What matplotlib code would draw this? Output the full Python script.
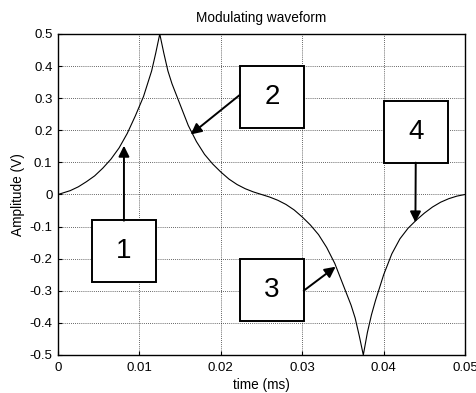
import numpy as np
import matplotlib
matplotlib.use("Agg")
import matplotlib.pyplot as plt
from matplotlib.patches import Rectangle

plt.rcParams["font.family"] = ["Liberation Sans", "DejaVu Sans"]
plt.rcParams["axes.unicode_minus"] = False

# waveform (time in ms, amplitude in V)
t = [0.0, 0.0015, 0.0025, 0.0035, 0.0045, 0.0055, 0.0065, 0.0075, 0.0085,
     0.0095, 0.0105, 0.0110, 0.0115, 0.0120, 0.0125,
     0.0130, 0.0135, 0.0140, 0.0150, 0.0160, 0.0170, 0.0180, 0.0190,
     0.0200, 0.0210, 0.0220, 0.0230, 0.0240, 0.0250,
     0.0260, 0.0270, 0.0280, 0.0290, 0.0300, 0.0310, 0.0320, 0.0330,
     0.0340, 0.0350, 0.0360, 0.0365, 0.0370, 0.0375,
     0.0380, 0.0385, 0.0390, 0.0400, 0.0410, 0.0420, 0.0430, 0.0440,
     0.0450, 0.0460, 0.0470, 0.0480, 0.0490, 0.0500]
amp = [0.0, 0.012, 0.024, 0.040, 0.058, 0.082, 0.110, 0.145, 0.190,
       0.245, 0.305, 0.345, 0.385, 0.44, 0.5,
       0.44, 0.385, 0.345, 0.28, 0.215, 0.165, 0.125, 0.095,
       0.07, 0.048, 0.031, 0.018, 0.008, 0.0,
       -0.008, -0.018, -0.031, -0.048, -0.07, -0.095, -0.125, -0.165,
       -0.215, -0.28, -0.345, -0.385, -0.44, -0.5,
       -0.43, -0.375, -0.33, -0.25, -0.185, -0.138, -0.105, -0.08,
       -0.058, -0.039, -0.024, -0.013, -0.005, 0.0]

xticks = [0, 0.01, 0.02, 0.03, 0.04, 0.05]
xticklabels = ["0", "0.01", "0.02", "0.03", "0.04", "0.05"]
yticks = [-0.5, -0.4, -0.3, -0.2, -0.1, 0, 0.1, 0.2, 0.3, 0.4, 0.5]
yticklabels = ["-0.5", "-0.4", "-0.3", "-0.2", "-0.1", "0",
               "0.1", "0.2", "0.3", "0.4", "0.5"]

labels = ["1", "2", "3", "4"]
# box lower-left corner, box size, arrow start, arrow tip (data coords)
boxes = [(0.00414, -0.2735), (0.02232, 0.2081), (0.02232, -0.3931), (0.04001, 0.0991)]
box_w, box_h = 0.0079, 0.193
starts = [(0.0081, -0.0816), (0.02232, 0.31), (0.03018, -0.2997), (0.04394, 0.0991)]
tips = [(0.0081, 0.152), (0.0163, 0.187), (0.0341, -0.225), (0.0439, -0.087)]

fig = plt.figure(figsize=(4.77, 3.93), dpi=100)
ax = fig.add_axes([0.1216, 0.0967, 0.8534, 0.8168])

ax.plot(t, amp, color="black", lw=0.8)
ax.set_xlim(0, 0.05)
ax.set_ylim(-0.5, 0.5)
ax.set_xticks(xticks)
ax.set_xticklabels(xticklabels)
ax.set_yticks(yticks)
ax.set_yticklabels(yticklabels)
ax.tick_params(direction="in", length=3, labelsize=9.5)
ax.tick_params(axis="x", pad=5)
ax.tick_params(axis="y", pad=4)
ax.grid(True, color="black", linestyle=(0, (1, 1.5)), lw=0.6, alpha=0.8)
for sp in ax.spines.values():
    sp.set_linewidth(1.0)

ax.set_title("Modulating waveform", fontsize=9.8, pad=8.5)
ax.set_xlabel("time (ms)", fontsize=9.8, labelpad=3)
ax.set_ylabel("Amplitude (V)", fontsize=9.8, labelpad=3)

for lab, (bx, by), s, tp in zip(labels, boxes, starts, tips):
    ax.add_patch(Rectangle((bx, by), box_w, box_h, facecolor="white",
                           edgecolor="black", lw=1.4, zorder=5))
    ax.text(bx + box_w / 2, by + box_h / 2, lab, fontsize=20,
            ha="center", va="center", zorder=6)
    ax.annotate("", xy=tp, xytext=s,
                arrowprops=dict(arrowstyle="-|>", color="black", lw=1.4,
                                mutation_scale=16, shrinkA=0, shrinkB=0),
                zorder=6)

fig.savefig("out.png", dpi=100)
